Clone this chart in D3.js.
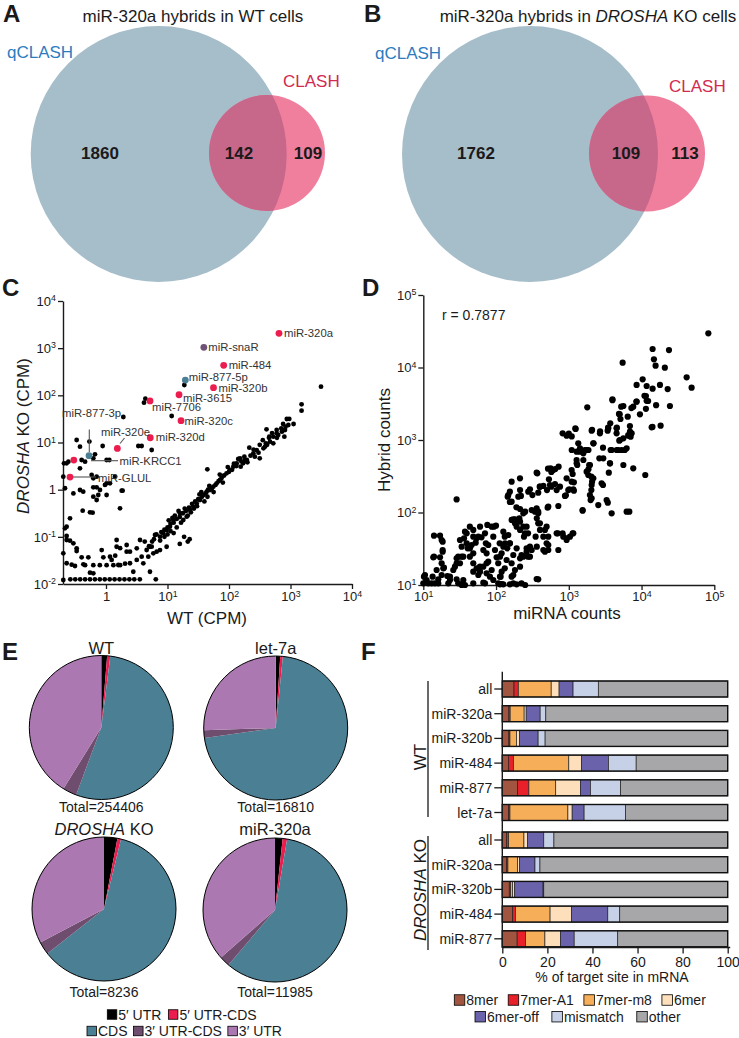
<!DOCTYPE html>
<html><head><meta charset="utf-8">
<script src="https://cdn.jsdelivr.net/npm/d3@7"></script>
<style>
body{margin:0;background:#fff}
svg{display:block}
text{font-family:"Liberation Sans",Arial,Helvetica,sans-serif;fill:#1a1a1a}
</style></head>
<body><svg id="fig" width="739" height="1038"></svg>
<script>
// ================= DATA =================
// Panels A/B : Venn counts [qCLASH only, both, CLASH only]
const vennSetNames = ["qCLASH", "CLASH"];
const vennWT = [1860, 142, 109];
const vennKO = [1762, 109, 113];

// Panel C : labelled miRNAs [name, WT CPM, DROSHA KO CPM, class]
const cLabelled = [
  ["miR-320a", 650, 2065, "red"], ["miR-snaR", 39, 1043, "purple"], ["miR-484", 82, 433, "red"],
  ["miR-877-5p", 19.5, 211, "teal"], ["miR-320b", 56, 145, "red"], ["miR-3615", 15.4, 103, "red"],
  ["miR-7706", 5.2, 76, "red"], ["miR-320c", 16.6, 29, "red"], ["miR-320d", 5.25, 12.6, "red"],
  ["miR-320e", 1.53, 7.5, "red"], ["miR-877-3p", 0.53, 5.25, "teal"], ["miR-KRCC1", 0.30, 4.25, "red"],
  ["miR-GLUL", 0.26, 1.85, "red"]
];
// Panel C : other miRNAs as log10(WT CPM), log10(KO CPM)
const cOtherLog = [
 [3.496,2.184],[3.18,1.809],[3.18,1.675],[3.05,1.392],[2.94,1.498],[2.88,1.392],[2.92,1.336],[2.86,1.23],[2.90,1.124],[2.775,1.265],[2.80,1.16],[2.61,1.28],[2.655,1.124],[2.72,0.982],[2.60,0.982],[2.56,0.876],[2.48,0.784],[2.33,0.89],[2.42,0.70],[2.5,0.664],[2.29,0.63],[2.23,0.558],[2.19,0.488],[2.965,1.371],[2.91,1.265],[2.775,1.194],[2.72,1.124],[2.667,1.018],[2.585,0.912],[2.45,0.84],[2.396,0.77],[2.26,0.629],[2.18,0.664],[2.125,0.558],[2.07,0.488],[2.016,0.417],[1.96,0.346],[1.854,0.205],[1.8,0.134],[1.745,0.064],[1.69,-0.007],[1.637,-0.042],[1.583,-0.113],[1.528,-0.219],[1.474,-0.29],[1.42,-0.36],[1.366,-0.43],[1.312,-0.572],[1.257,-0.643],[1.203,-0.502],[1.095,-0.643],[1.04,-0.784],[0.986,-0.855],[0.93,-0.926],[0.878,-0.997],
 [2.35,0.72],[2.30,0.58],[2.20,0.60],[2.12,0.50],[2.05,0.42],[2.00,0.38],[1.92,0.30],[1.88,0.25],[1.83,0.18],[1.78,0.10],[1.72,0.02],[1.66,0.0],[1.62,-0.08],[1.56,-0.15],[1.50,-0.20],[1.45,-0.25],[1.40,-0.30],[1.35,-0.38],[1.30,-0.45],[1.25,-0.50],[1.20,-0.58],[1.15,-0.62],[1.10,-0.70],[1.05,-0.72],[1.00,-0.80],[0.95,-0.85],[0.90,-0.90],[1.52,-0.10],[1.68,0.08],[1.85,0.32],[1.98,0.48],[2.08,0.55],[2.15,0.65],[2.25,0.70],[2.40,0.85],[2.50,0.95],[2.55,1.05],[2.65,1.10],[2.70,1.20],[2.78,1.10],[2.85,1.30],[2.98,1.50],[2.62,0.95],[1.28,-0.40],[1.33,-0.55],[1.18,-0.45],[1.12,-0.55],[1.22,-0.70],[1.38,-0.48],[1.43,-0.40],[1.48,-0.35],[1.60,-0.25],[1.75,-0.05],[1.90,0.15],[1.65,-0.15],[1.55,-0.05],[0.82,-0.95],[0.78,-1.05],[0.75,-1.10],[0.88,-1.08],[0.70,-1.20],[0.95,-1.00],[1.00,-0.95],[1.05,-0.88],[1.10,-0.92],[1.15,-0.80],[1.02,-0.65],[1.08,-0.60],[1.33,-1.10],[1.27,-1.0],[1.20,-1.15],[1.36,-1.05],
 [-0.694,0.276],[-0.233,0.311],[-0.206,0.24],[0.01,0.134],[0.065,0.134],[-0.667,0.03],[-0.53,-0.08],[-0.423,-0.007],[-0.37,-0.042],[-0.206,0.05],[-0.152,0.05],[-0.125,-0.113],[-0.206,-0.148],[-0.152,-0.219],[0.01,-0.113],[0.255,-0.021],[0.228,-0.396],[-0.379,-0.445],[-0.217,-0.488],[-0.585,-0.608],[-0.667,-0.82],[-0.64,-1.067],[-0.53,-1.138],[-0.477,-1.244],[-0.694,-1.35],[-0.64,-1.56],[-0.504,-1.618],[-0.34,-1.6],[-0.206,-1.6],[-0.1,-1.6],[0.01,-1.6],[0.12,-1.6],[0.23,-1.6],[0.31,-1.57],[0.39,-1.56],[-0.043,-1.435],[0.065,-1.42],[0.15,-1.40],[-0.07,-1.28],[0.173,-1.21],[0.23,-1.24],[0.336,-1.314],[0.5,-1.244],[0.553,-1.067],[0.63,-1.10],[0.715,-1.21],[0.58,-1.42],[0.77,-1.35],[0.878,-1.28],[0.986,-1.21],[0.715,-1.74],[-0.206,-1.774],[-0.26,-1.76],[0.444,-1.74],[-0.694,-1.915],
 [-0.58,-1.9],[-0.50,-1.9],[-0.42,-1.9],[-0.34,-1.9],[-0.26,-1.9],[-0.18,-1.9],[-0.10,-1.9],[-0.02,-1.9],[0.06,-1.9],[0.14,-1.9],[0.22,-1.9],[0.30,-1.9],[0.38,-1.9],[0.46,-1.9],[0.55,-1.9],[0.81,-1.9],
 [-0.477,1.053],[-0.423,0.912],[-0.27,1.02],[-0.054,0.926],[0.526,0.926],[0.58,0.926],[0.743,0.841],[-0.64,0.558],[-0.396,0.629],[-0.34,0.594],[-0.206,0.664],[0.01,0.629],[0.054,0.629],[-0.179,0.749],[0.64,1.929],[0.618,1.845],[1.274,2.219],[0.282,1.541],[1.068,1.562],[-0.683,0.558],[-0.612,0.594],[-0.423,0.452],[-0.152,0.276],[-0.098,-0.007],[-0.016,0.1],[0.146,0.276],[0.271,-0.021],[-0.26,-0.48],[-0.64,-0.784],[-0.64,-0.982],[-0.585,-1.081],[-0.477,-1.3],[0.173,-1.067],[0.336,-1.173],[0.39,-1.315],[0.661,-1.279],[0.743,-1.208],[0.824,-1.315],[0.797,-0.96],[0.688,-1.42],[0.607,-1.562],[0.2,-1.597],[-0.368,-1.583],[1.648,0.431],[-0.396,-1.435],[-0.287,-1.435],[0.092,-1.49],[0.5,-1.49],[-0.558,-1.59]
];

// Panel D : log10(miRNA counts), log10(hybrid counts)
const dLog = [
 [4.918,4.471],[4.152,4.255],[4.377,4.241],[3.74,4.067],[4.17,4.113],[4.193,4.025],[4.32,3.998],[4.62,3.864],[4.688,3.722],[4.015,3.837],[4.07,3.745],[3.932,3.759],[4.152,3.708],[4.253,3.759],[4.359,3.703],[4.06,3.607],[4.09,3.538],[3.932,3.529],[4.39,3.469],[3.60,3.561],[3.75,3.469],[3.886,3.46],[3.978,3.354],[3.81,3.322],[4.139,3.175],[4.262,3.198],[3.70,3.354],[3.657,3.161],[3.84,3.193],[3.694,2.991],[3.75,3.023],[3.864,3.092],[3.85,3.046],[3.543,3.161],[3.657,3.092],[3.254,3.451],[3.314,3.129],[3.428,3.092],[3.534,3.129],[2.915,3.092],[2.97,3.06],[3.094,3.152],[3.13,2.954],[3.04,2.862],[3.15,2.839],[3.22,2.862],[3.27,2.862],[3.34,2.954],[3.47,2.894],[3.575,2.862],[3.68,2.862],[3.77,2.862],[3.42,2.747],[3.566,2.678],[3.75,2.655],[3.886,2.609],[4.051,2.517],[3.107,2.724],[3.116,2.655],[3.28,2.655],[3.27,2.595],[3.55,2.549],[3.31,2.494],[3.32,2.425],[3.31,2.31],[3.30,2.172],[3.47,2.379],[3.405,2.103],[3.536,2.136],[3.19,2.025],[3.29,2.241],[3.053,2.531],[3.07,2.416],[3.007,2.32],[3.07,2.30],[2.96,2.237],[2.879,2.356],[2.814,2.60],[2.76,2.559],[2.727,2.457],[2.76,2.356],[2.65,2.366],[2.60,2.356],[2.70,2.31],[2.58,2.274],[2.50,2.241],[2.718,2.08],[2.856,2.09],[2.567,2.54],[2.714,2.605],[2.86,2.632],[2.466,2.32],[2.33,2.31],[2.342,2.228],[2.214,2.425],[2.19,2.287],[2.16,2.218],[2.19,2.145],[2.28,2.071],[2.375,1.989],[2.32,1.92],[2.49,2.034],[2.58,2.011],[2.56,1.92],[2.603,1.851],[2.695,1.805],[2.718,1.667],[2.65,1.667],[2.695,1.575],[2.672,1.46],[2.856,1.483],[2.915,1.713],[2.97,1.644],[3.016,1.667],[3.053,1.713],[2.85,1.713],[2.544,1.667],[2.56,1.529],[2.466,1.529],[2.42,1.46],[2.35,1.414],[2.44,1.391],[2.33,1.759],[2.26,1.851],[2.237,1.906],[2.283,1.805],[2.44,1.713],[2.42,1.805],[2.384,1.667],[2.283,1.506],[2.19,1.575],[2.155,1.506],[2.237,1.414],[2.145,1.345],[2.12,1.23],[2.33,1.253],[2.237,1.138],[2.237,1.023],[2.35,1.023],[2.40,1.0],[2.58,1.078],[2.10,1.529],[2.12,1.667],[2.05,1.575],[2.077,1.437],[2.008,1.382],[2.03,1.30],[2.077,1.184],[2.063,1.115],[2.077,1.014],[1.962,1.667],[1.97,1.805],[1.88,1.828],[1.848,1.713],[1.86,1.575],[1.825,1.483],[1.78,1.805],[1.756,1.667],[1.72,1.584],[1.664,1.552],[1.687,1.667],[1.64,1.805],[1.596,1.713],[1.61,1.506],[1.55,1.391],[1.64,1.391],[1.687,1.30],[1.733,1.23],[1.687,1.184],[1.78,1.184],[1.825,1.253],[1.87,1.30],[1.87,1.161],[1.848,1.023],[1.916,1.115],[1.962,1.069],[1.687,1.023],[1.55,1.069],[1.458,1.30],[1.48,1.391],[1.527,1.529],[1.504,1.621],[1.56,1.644],[1.412,1.207],[1.367,1.115],[1.344,1.023],[1.458,2.18],[1.147,1.68],[1.23,1.68],[1.252,1.621],[1.147,1.391],[1.23,1.382],[1.266,1.46],[1.252,1.30],[1.183,1.207],[1.252,1.138],[1.275,1.23],[1.206,1.023],[1.115,1.023],[1.023,1.138],[1.046,1.069],[1.069,1.023],[1.0,1.023],[1.48,1.023],[2.03,1.023],[1.009,1.115],[1.128,1.115],[1.206,1.078],[1.33,1.124],[1.367,1.069],[1.458,1.078],[1.527,1.0],[1.573,1.0],[1.825,1.032],[1.16,1.023],[2.054,1.01],[2.10,1.01],[2.19,1.01],[2.283,1.01],[2.558,1.083],[1.573,1.736],[1.687,1.759],[1.999,1.818],[1.94,1.805],[1.733,1.644],[1.80,1.657],[1.596,1.575],[1.641,1.506],[1.687,1.437],[1.893,1.552],[1.87,1.437],[1.985,1.483],[2.054,1.391],[2.123,1.575],[2.168,1.69],[2.10,1.736],[2.19,1.575],[2.214,1.30],[2.26,1.207],[2.214,1.115],[2.054,1.115],[1.94,1.207],[1.893,1.322],[1.779,1.253],[1.756,1.138],[1.527,1.391],[1.458,1.368],[1.504,1.30],[1.284,1.239],[1.435,1.253],[1.266,1.598],[1.266,1.483],[1.137,1.382],
 [2.168,2.241],[2.214,2.149],[2.329,2.471],[2.306,2.218],[2.443,2.287],[2.558,2.549],[2.604,2.356],[2.75,2.609],[2.787,2.586],[2.741,2.379],[2.81,2.393],[2.833,2.31],[2.97,2.471],[3.039,2.425],[3.062,2.32],[2.993,2.31],[2.947,2.228],[2.709,2.067],[2.558,2.057],[2.58,1.989],[2.535,2.011],[2.40,2.011],[2.33,2.048],[2.26,1.906],[2.214,1.897],[2.33,1.874],[2.375,1.805],[2.398,1.713],[2.58,1.851],[2.604,1.759],[2.672,1.759],[2.718,1.552],[2.65,1.483],[2.718,1.483],[2.833,1.713],[2.924,1.667],[2.97,1.621],[3.062,1.713],[2.466,1.391],[2.375,1.391],[2.33,1.368],[2.49,1.483],[2.42,1.506],[3.039,2.586],[3.108,2.678],[3.2,2.724],[3.108,2.839],[3.154,2.885],[3.245,2.862],[3.337,2.954],[3.2,2.816],[3.291,2.655],[3.245,2.563],[3.268,2.517],[3.337,2.471],[3.314,2.379],[3.314,2.195],[3.451,2.402],[3.474,2.747],[3.566,2.678],[3.589,2.862],[3.658,2.862],[3.726,2.862],[3.795,2.885],[3.818,3.069],[3.841,3.115],[3.703,3.0],[3.52,2.172],[3.589,1.989],[3.795,2.011],[3.832,2.011],[3.19,2.034],
 [3.60,3.55],[3.72,3.46],[3.93,3.53],[4.04,3.61],[4.07,3.54],[4.06,3.43],[3.86,3.44],[3.69,3.36],[3.71,3.29],[4.20,3.48],[3.09,3.16],[3.00,3.09],[3.04,3.05],[3.32,3.14],[3.43,3.12],[3.54,3.17],[3.57,3.23],[3.66,3.17],[3.82,3.06],[4.15,3.18]
];
const dCorrelation = "r = 0.7877";

// Panel E : mRNA region share (%) per library
const regionNames = ["5\u2032 UTR", "5\u2032 UTR-CDS", "CDS", "3\u2032 UTR-CDS", "3\u2032 UTR"];
const pieNames = ["WT", "let-7a", "DROSHA KO", "miR-320a"];
const pieTotals = [254406, 16810, 8236, 11985];
const pieWT = [1.3, 0.7, 53.7, 3.1, 41.2];
const pieLet7a = [1.0, 0.6, 71.2, 1.7, 25.5];
const pieKO = [3.0, 0.8, 60.6, 2.9, 32.7];
const pie320a = [1.7, 1.0, 58.5, 2.3, 36.5];

// Panel F : % of target site type
const siteTypes = ["8mer", "7mer-A1", "7mer-m8", "6mer", "6mer-off", "mismatch", "other"];
const fWTCats = ["all", "miR-320a", "miR-320b", "miR-484", "miR-877", "let-7a"];
const fKOCats = ["all", "miR-320a", "miR-320b", "miR-484", "miR-877"];
const fWT = [
  [5.2, 1.9, 14.6, 3.5, 6.2, 11.2, 57.4],
  [2.9, 0.6, 6.2, 0.9, 6.2, 2.5, 80.7],
  [2.9, 0.5, 2.9, 1.3, 8.3, 3.1, 81.0],
  [2.7, 2.2, 24.6, 5.6, 12.0, 12.3, 40.6],
  [6.8, 5.0, 11.9, 11.0, 4.4, 13.4, 47.5],
  [2.8, 0.6, 25.7, 1.9, 5.3, 18.4, 45.3]
];
const fKO = [
  [1.9, 0.9, 6.8, 1.6, 7.2, 4.5, 77.1],
  [1.9, 0.6, 4.3, 0.9, 6.8, 2.2, 83.3],
  [3.1, 0.6, 0.9, 0.9, 12.6, 0.3, 81.6],
  [4.6, 1.2, 15.4, 9.5, 16.1, 5.3, 47.9],
  [6.6, 3.7, 8.6, 6.9, 6.1, 19.3, 48.8]
];
const fTicks = [0, 20, 40, 60, 80, 100];

// ================= DRAWING =================
const svg = d3.select("#fig");
const ink = "#1a1a1a";

function panelLetter(x, y, t) {
  svg.append("text").attr("x", x).attr("y", y).attr("font-size", 24).attr("font-weight", "bold").text(t);
}
panelLetter(3, 22, "A"); panelLetter(364, 22, "B"); panelLetter(2, 296, "C");
panelLetter(362, 296, "D"); panelLetter(2, 660, "E"); panelLetter(361, 660, "F");

// ---------- Venn ----------
const vennColors = { big: "#a6bdca", small: "#f07f9e", both: "#c7678a", qText: "#2b7cbf", cText: "#d22a50" };
function drawVenn(id, vals, g) {
  const grp = svg.append("g");
  grp.append("clipPath").attr("id", id).append("circle").attr("cx", g.bx).attr("cy", g.by).attr("r", g.br);
  grp.append("circle").attr("cx", g.bx).attr("cy", g.by).attr("r", g.br).attr("fill", vennColors.big);
  grp.append("circle").attr("cx", g.sx).attr("cy", g.sy).attr("r", g.sr).attr("fill", vennColors.small);
  grp.append("circle").attr("cx", g.sx).attr("cy", g.sy).attr("r", g.sr).attr("fill", vennColors.both)
    .attr("clip-path", `url(#${id})`);
  grp.append("text").attr("x", g.qx).attr("y", g.qy).attr("font-size", 17).style("fill", vennColors.qText).text(vennSetNames[0]);
  grp.append("text").attr("x", g.cx).attr("y", g.cy).attr("font-size", 17).style("fill", vennColors.cText).text(vennSetNames[1]);
  vals.forEach((v, i) => {
    grp.append("text").attr("x", g.nx[i]).attr("y", 159).attr("text-anchor", "middle")
      .attr("font-size", 17).attr("font-weight", "bold").text(v);
  });
}
drawVenn("clipA", vennWT, { bx: 158.7, by: 154, br: 128, sx: 267, sy: 153, sr: 58, qx: 7, qy: 58, cx: 283, cy: 87, nx: [100, 239, 308] });
drawVenn("clipB", vennKO, { bx: 530, by: 154, br: 128, sx: 647, sy: 153.5, sr: 58, qx: 375, qy: 59, cx: 669, cy: 92, nx: [476, 626, 685] });
svg.append("text").attr("x", 193).attr("y", 22).attr("text-anchor", "middle").attr("font-size", 17).text("miR-320a hybrids in WT cells");
const tB = svg.append("text").attr("x", 588).attr("y", 22).attr("text-anchor", "middle").attr("font-size", 17);
tB.append("tspan").text("miR-320a hybrids in ");
tB.append("tspan").attr("font-style", "italic").text("DROSHA");
tB.append("tspan").text(" KO cells");

// ---------- log tick label helper ----------
function logLabel(text) {
  text.each(function (v) {
    const t = d3.select(this); const e = Math.round(Math.log10(v));
    t.text(null);
    if (e === 0) { t.text("1"); return; }
    t.append("tspan").text("10");
    t.append("tspan").attr("dy", "-0.5em").attr("font-size", "0.68em").text(e);
  });
}
function styleAxis(g, fs) {
  g.select(".domain").attr("stroke", ink).attr("stroke-width", 1.4);
  g.selectAll(".tick line").attr("stroke", ink).attr("stroke-width", 1.3);
  g.selectAll(".tick text").attr("font-size", fs).style("fill", ink)
    .attr("font-family", '"Liberation Sans",Arial,sans-serif');
}

// ---------- Panel C ----------
const cx = d3.scaleLog().domain([0.2, 1e4]).range([63, 352]);
const cy = d3.scaleLog().domain([1e-2, 1e4]).range([584, 301]);
const cDecX = [1, 10, 100, 1000, 10000];
const cDecY = [1e-2, 1e-1, 1, 10, 100, 1000, 10000];
const gcx = svg.append("g").attr("transform", "translate(0,584)")
  .call(d3.axisBottom(cx).tickValues(cDecX).tickSize(5).tickSizeOuter(0).tickPadding(3));
styleAxis(gcx, 13); gcx.selectAll(".tick text").call(logLabel);
const gcy = svg.append("g").attr("transform", "translate(63,0)")
  .call(d3.axisLeft(cy).tickValues(cDecY).tickSize(5).tickSizeOuter(0).tickPadding(2));
styleAxis(gcy, 13); gcy.selectAll(".tick text").call(logLabel);
svg.append("text").attr("x", 207).attr("y", 624).attr("text-anchor", "middle").attr("font-size", 17).text("WT (CPM)");
const cyl = svg.append("text").attr("transform", "translate(29,436) rotate(-90)").attr("text-anchor", "middle").attr("font-size", 17);
cyl.append("tspan").attr("font-style", "italic").text("DROSHA");
cyl.append("tspan").text(" KO (CPM)");

const cOther = cOtherLog.map(d => [Math.pow(10, d[0]), Math.pow(10, d[1])]);
svg.append("g").selectAll("circle").data(cOther).join("circle")
  .attr("cx", d => cx(d[0])).attr("cy", d => cy(d[1])).attr("r", 2.4).attr("fill", "#000");

const cColor = { red: "#ec1c4f", purple: "#6e5278", teal: "#4b7f94" };
// label layout: [dx, dy] relative to the point
const cLabelPos = {
  "miR-320a": [5, 4], "miR-snaR": [4.5, 4], "miR-484": [5, 4], "miR-877-5p": [3.5, 0.5], "miR-320b": [5, 4.5],
  "miR-3615": [4, 7], "miR-7706": [2, 10], "miR-320c": [3.5, 4], "miR-320d": [5.5, 3.5]
};
// leader lines drawn in the picture (layout only)
const cLeaders = [[89.3, 429.5, 89.3, 452], [91, 460.7, 118, 460.7], [72, 477, 96, 477], [120, 443.5, 124.5, 438]];
svg.append("g").selectAll("line").data(cLeaders).join("line")
  .attr("x1", d => d[0]).attr("y1", d => d[1]).attr("x2", d => d[2]).attr("y2", d => d[3])
  .attr("stroke", "#555").attr("stroke-width", 1.1);
svg.append("g").selectAll("circle").data(cLabelled).join("circle")
  .attr("cx", d => cx(d[1])).attr("cy", d => cy(d[2])).attr("r", 3.4).attr("fill", d => cColor[d[3]]);
const cFixedLabels = { "miR-877-3p": [62, 417], "miR-320e": [101, 436], "miR-KRCC1": [119.5, 464.5], "miR-GLUL": [98, 481.5] };
svg.append("g").selectAll("text").data(cLabelled).join("text")
  .attr("x", d => cFixedLabels[d[0]] ? cFixedLabels[d[0]][0] : cx(d[1]) + cLabelPos[d[0]][0])
  .attr("y", d => cFixedLabels[d[0]] ? cFixedLabels[d[0]][1] : cy(d[2]) + cLabelPos[d[0]][1])
  .attr("font-size", 11.3).style("fill", "#333").text(d => d[0]);

// ---------- Panel D ----------
const dx = d3.scaleLog().domain([10, 1e5]).range([423.3, 714.3]);
const dy = d3.scaleLog().domain([10, 1e5]).range([585, 295]);
const dDec = [10, 100, 1000, 10000, 100000];
const gdx = svg.append("g").attr("transform", "translate(0,585)")
  .call(d3.axisBottom(dx).tickValues(dDec).tickSize(5).tickSizeOuter(0).tickPadding(2));
styleAxis(gdx, 13); gdx.selectAll(".tick text").call(logLabel);
const gdy = svg.append("g").attr("transform", "translate(423.3,0)")
  .call(d3.axisLeft(dy).tickValues(dDec).tickSize(5).tickSizeOuter(0).tickPadding(2));
styleAxis(gdy, 13); gdy.selectAll(".tick text").call(logLabel);
svg.append("text").attr("x", 567).attr("y", 619).attr("text-anchor", "middle").attr("font-size", 17).text("miRNA counts");
svg.append("text").attr("transform", "translate(390,440) rotate(-90)").attr("text-anchor", "middle").attr("font-size", 17).text("Hybrid counts");
svg.append("text").attr("x", 442).attr("y", 319.5).attr("font-size", 14).text(dCorrelation);
const dPts = dLog.map(d => [Math.pow(10, d[0]), Math.pow(10, d[1])]);
svg.append("g").selectAll("circle").data(dPts).join("circle")
  .attr("cx", d => dx(d[0])).attr("cy", d => dy(d[1])).attr("r", 3.1).attr("fill", "#000");

// ---------- Panel E ----------
const regionColors = ["#000000", "#ec1c4f", "#4b7f94", "#6f4d6f", "#ac78b1"];
const pieSets = [pieWT, pieLet7a, pieKO, pie320a];
const pieGeo = [[101.3, 727.5, 654, 812], [275.7, 728, 654, 812], [104, 909, 835, 997], [275, 910, 835, 997]];
const pieR = 72;
const pieGen = d3.pie().sort(null).value(d => d);
const arcGen = d3.arc().innerRadius(0).outerRadius(pieR);
pieSets.forEach((vals, i) => {
  const [px, py, ty, by] = pieGeo[i];
  const g = svg.append("g").attr("transform", `translate(${px},${py})`);
  g.selectAll("path").data(pieGen(vals)).join("path").attr("d", arcGen)
    .attr("fill", (d, j) => regionColors[j]);
  g.append("circle").attr("r", pieR).attr("fill", "none").attr("stroke", "#000").attr("stroke-width", 1);
  const t = svg.append("text").attr("x", px).attr("y", ty).attr("text-anchor", "middle").attr("font-size", 16.5);
  if (pieNames[i] === "DROSHA KO") {
    t.append("tspan").attr("font-style", "italic").text("DROSHA");
    t.append("tspan").text(" KO");
  } else t.text(pieNames[i]);
  svg.append("text").attr("x", px).attr("y", by).attr("text-anchor", "middle").attr("font-size", 14).text("Total=" + pieTotals[i]);
});
// legend rows
function legendRow(items, x0, yc, fs, sq, gapAfter) {
  let x = x0;
  items.forEach(([label, color]) => {
    svg.append("rect").attr("x", x).attr("y", yc - sq / 2).attr("width", sq).attr("height", sq)
      .attr("fill", color).attr("stroke", "#000").attr("stroke-width", 0.8);
    const t = svg.append("text").attr("x", x + sq + 1.5).attr("y", yc + fs * 0.36).attr("font-size", fs).text(label);
    x += sq + 1.5 + t.node().getComputedTextLength() + gapAfter;
  });
}
legendRow([[regionNames[0], regionColors[0]], [regionNames[1], regionColors[1]]], 107.3, 1014.5, 14, 9.5, 7);
legendRow([[regionNames[2], regionColors[2]], [regionNames[3], regionColors[3]], [regionNames[4], regionColors[4]]], 87, 1031, 14, 9.5, 6);

// ---------- Panel F ----------
const siteColors = ["#a1543f", "#e8202a", "#f7ae58", "#fde0bb", "#6a63ab", "#c6d1e7", "#a7a7a9"];
const fx = d3.scaleLinear().domain([0, 100]).range([502.3, 727.7]);
const fRows = fWTCats.map((c, i) => ({ id: "wt" + i, cat: c, grp: "WT", vals: fWT[i] }))
  .concat(fKOCats.map((c, i) => ({ id: "ko" + i, cat: c, grp: "KO", vals: fKO[i] })));
const step = 24.7, pin = 0.352;
const fy = d3.scaleBand().domain(fRows.map(r => r.id)).range([681 - step * pin / 2, 681 - step * pin / 2 + fRows.length * step])
  .paddingInner(pin).paddingOuter(pin / 2);
const grpShift = r => r.grp === "KO" ? 2.8 : 0;
const stackKeys = d3.range(siteTypes.length);
const stacked = d3.stack().keys(stackKeys).value((r, k) => r.vals[k])(fRows);
stacked.forEach((layer, k) => {
  svg.append("g").selectAll("rect").data(layer).join("rect")
    .attr("x", d => fx(d[0])).attr("width", d => Math.max(0, fx(d[1]) - fx(d[0])))
    .attr("y", d => fy(d.data.id) + grpShift(d.data)).attr("height", fy.bandwidth())
    .attr("fill", siteColors[k]).attr("stroke", "#222").attr("stroke-width", 0.7);
});
svg.append("g").selectAll("rect").data(fRows).join("rect")
  .attr("x", fx(0)).attr("width", fx(100) - fx(0))
  .attr("y", r => fy(r.id) + grpShift(r)).attr("height", fy.bandwidth())
  .attr("fill", "none").attr("stroke", "#111").attr("stroke-width", 1.4);
// category axis
svg.append("line").attr("x1", fx(0)).attr("x2", fx(0)).attr("y1", 671.7).attr("y2", 948).attr("stroke", ink).attr("stroke-width", 1.4);
fRows.forEach(r => {
  const yc = fy(r.id) + grpShift(r) + fy.bandwidth() / 2;
  svg.append("line").attr("x1", fx(0) - 8).attr("x2", fx(0)).attr("y1", yc).attr("y2", yc).attr("stroke", ink).attr("stroke-width", 1.3);
  svg.append("text").attr("x", fx(0) - 10).attr("y", yc + 5).attr("text-anchor", "end").attr("font-size", 14).text(r.cat);
});
const gfx = svg.append("g").attr("transform", "translate(0,947.5)")
  .call(d3.axisBottom(fx).tickValues(fTicks).tickSize(6).tickSizeOuter(0).tickPadding(4));
styleAxis(gfx, 14);
gfx.select(".domain").attr("d", `M${fx(0)},0H${fx(100) + 2.5}`);
svg.append("text").attr("x", 612).attr("y", 982).attr("text-anchor", "middle").attr("font-size", 14).text("% of target site in mRNA");
// group labels
svg.append("line").attr("x1", 428).attr("x2", 428).attr("y1", 681).attr("y2", 817).attr("stroke", ink).attr("stroke-width", 1.3);
svg.append("line").attr("x1", 428).attr("x2", 428).attr("y1", 836).attr("y2", 950).attr("stroke", ink).attr("stroke-width", 1.3);
svg.append("text").attr("transform", "translate(426,757) rotate(-90)").attr("text-anchor", "middle").attr("font-size", 17).text("WT");
const gko = svg.append("text").attr("transform", "translate(426,890) rotate(-90)").attr("text-anchor", "middle").attr("font-size", 17);
gko.append("tspan").attr("font-style", "italic").text("DROSHA");
gko.append("tspan").text(" KO");
// legend F
legendRow(siteTypes.slice(0, 4).map((s, i) => [s, siteColors[i]]), 454.3, 1000, 14, 10.5, 10);
legendRow(siteTypes.slice(4).map((s, i) => [s, siteColors[i + 4]]), 475, 1016.7, 14, 10.5, 13);
</script></body></html>
